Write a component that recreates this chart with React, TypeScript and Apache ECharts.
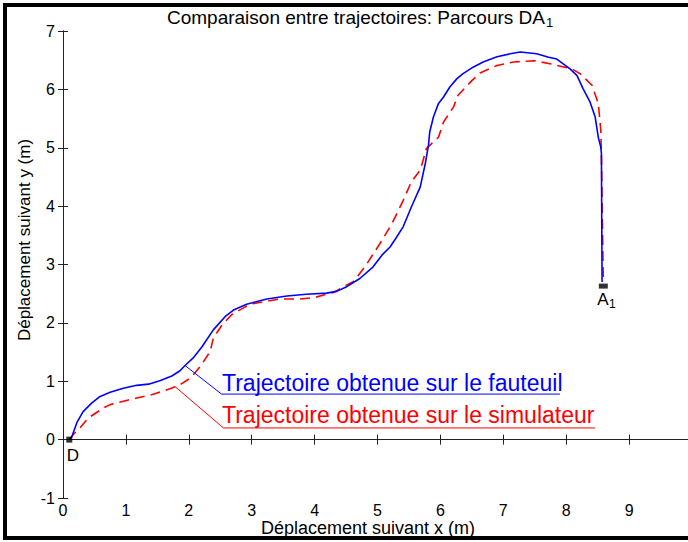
import React, { useEffect, useRef } from "react";
import * as echarts from "echarts";

// Trajectoire obtenue sur le fauteuil (blue, solid)
const blueX = [0.1, 0.14, 0.22, 0.32, 0.46, 0.59, 0.75, 0.96, 1.17, 1.36, 1.54, 1.73, 1.86, 1.94, 2.07, 2.21, 2.39, 2.58, 2.71, 2.92, 3.24, 3.56, 3.87, 4.19, 4.35, 4.51, 4.72, 4.93, 5.07, 5.2, 5.31, 5.41, 5.54, 5.68, 5.76, 5.81, 5.83, 5.89, 5.97, 6.05, 6.15, 6.26, 6.36, 6.52, 6.68, 6.9, 7.11, 7.27, 7.53, 7.72, 7.85, 8.06, 8.17, 8.27, 8.38, 8.46, 8.51, 8.55, 8.56, 8.57];
const blueY = [0, 0.05, 0.29, 0.48, 0.63, 0.74, 0.81, 0.88, 0.93, 0.95, 1.01, 1.09, 1.18, 1.27, 1.4, 1.59, 1.88, 2.11, 2.22, 2.32, 2.41, 2.46, 2.49, 2.51, 2.54, 2.62, 2.76, 2.96, 3.16, 3.3, 3.48, 3.65, 3.99, 4.33, 4.73, 5.04, 5.27, 5.53, 5.76, 5.87, 6.04, 6.18, 6.27, 6.38, 6.47, 6.56, 6.61, 6.64, 6.61, 6.55, 6.52, 6.35, 6.24, 6.01, 5.78, 5.53, 5.18, 5.01, 4.9, 2.7];

// Trajectoire obtenue sur le simulateur (red, dashed)
const redX = [0.1, 0.16, 0.27, 0.4, 0.64, 0.75, 1.04, 1.41, 1.7, 1.86, 1.99, 2.07, 2.18, 2.34, 2.39, 2.52, 2.68, 2.97, 3.18, 3.45, 3.77, 3.98, 4.3, 4.46, 4.62, 4.8, 5.04, 5.23, 5.41, 5.54, 5.68, 5.78, 5.97, 6.05, 6.21, 6.28, 6.5, 6.63, 6.9, 7.16, 7.5, 7.74, 8.09, 8.22, 8.41, 8.51, 8.55, 8.56, 8.59];
const redY = [0, 0.085, 0.2, 0.37, 0.54, 0.6, 0.68, 0.77, 0.87, 0.94, 1.03, 1.11, 1.25, 1.51, 1.74, 1.95, 2.14, 2.32, 2.36, 2.41, 2.41, 2.43, 2.52, 2.62, 2.71, 2.96, 3.36, 3.7, 4.1, 4.42, 4.62, 4.99, 5.18, 5.44, 5.7, 5.9, 6.15, 6.28, 6.41, 6.47, 6.49, 6.44, 6.35, 6.27, 6.07, 5.76, 5.3, 4.84, 2.7];

// start (D) and end (A1) points
const startPoint = [0.1, 0];
const endPoint = [8.59, 2.63];

// leader lines of the annotations (data coordinates)
const blueLeaderX = [1.94, 2.52, 7.9];
const blueLeaderY = [1.27, 0.78, 0.78];
const redLeaderX = [1.78, 2.55, 8.46];
const redLeaderY = [0.91, 0.2, 0.2];

const titleText = "Comparaison entre trajectoires: Parcours DA";
const titleSub = "1";
const xTitle = "Déplacement suivant x (m)";
const yTitle = "Déplacement suivant y (m)";
const blueLabel = "Trajectoire obtenue sur le fauteuil";
const redLabel = "Trajectoire obtenue sur le simulateur";
const startLabel = "D";
const endLabel = "A";
const endSub = "1";

const FONT = "'Liberation Sans', Arial, sans-serif";
const AXIS_COLOR = "#222";

const zip = (xs: number[], ys: number[]) => xs.map((x, i) => [x, ys[i]]);

export default function App() {
  const ref = useRef<HTMLDivElement>(null);
  useEffect(() => {
    document.body.style.margin = "0";
    const chart = echarts.init(ref.current!, undefined, { renderer: "svg" });
    const gridLeft = 63, gridTop = 31, gridW = 629, gridH = 467;
    const axisCommon = {
      type: "value" as const,
      axisLine: { show: true, lineStyle: { color: AXIS_COLOR, width: 1 } },
      axisTick: { show: true, inside: true, length: 5, lineStyle: { color: AXIS_COLOR } },
      splitLine: { show: false },
    };
    chart.setOption({
      animation: false,
      backgroundColor: "#ffffff",
      grid: { left: gridLeft, top: gridTop, width: gridW, height: gridH, outerBoundsMode: "none", containLabel: false },
      xAxis: [
        {
          ...axisCommon, position: "bottom", min: 0, max: 10, interval: 1,
          axisLabel: { color: "#000", fontFamily: FONT, fontSize: 16, margin: 4, showMaxLabel: false },
        },
        {
          ...axisCommon, position: "top", min: 0, max: 10, interval: 1,
          axisLabel: { show: false },
        },
      ],
      yAxis: [
        {
          ...axisCommon, position: "left", min: -1, max: 7, interval: 1,
          axisLabel: { color: "#000", fontFamily: FONT, fontSize: 16, margin: 8 },
        },
        {
          ...axisCommon, position: "right", min: -1, max: 7, interval: 1,
          axisLabel: { show: false },
        },
      ],
      series: [
        {
          type: "line", data: zip(redX, redY), showSymbol: false, smooth: false,
          lineStyle: { color: "#ff0000", width: 1.6, type: [10, 6] }, z: 2,
        },
        {
          type: "line", data: zip(blueX, blueY), showSymbol: false, smooth: false,
          lineStyle: { color: "#0000ff", width: 1.6 }, z: 3,
        },
        {
          type: "line", data: zip(blueLeaderX, blueLeaderY), showSymbol: false,
          lineStyle: { color: "#0000ff", width: 1 }, z: 4,
        },
        {
          type: "line", data: zip(redLeaderX, redLeaderY), showSymbol: false,
          lineStyle: { color: "#ff0000", width: 1 }, z: 4,
        },
        {
          type: "scatter", data: [startPoint], symbol: "rect", symbolSize: [6, 6],
          itemStyle: { color: "#000" }, z: 5,
        },
        {
          type: "scatter", data: [endPoint], symbol: "rect", symbolSize: [9, 5],
          itemStyle: { color: "#000" }, z: 5,
        },
      ],
      graphic: [
        { type: "rect", shape: { x: 3, y: 3, width: 4, height: 537 }, style: { fill: "#000" } },
        { type: "rect", shape: { x: 3, y: 3, width: 690, height: 4 }, style: { fill: "#000" } },
        { type: "rect", shape: { x: 3, y: 536, width: 690, height: 4 }, style: { fill: "#000" } },
        {
          type: "text", x: 545, y: 17,
          style: { text: titleText, fill: "#000", font: `19px ${FONT}`, textAlign: "right", textVerticalAlign: "middle" },
        },
        {
          type: "text", x: 546, y: 22,
          style: { text: titleSub, fill: "#000", font: `13px ${FONT}`, textAlign: "left", textVerticalAlign: "middle" },
        },
        {
          type: "text", x: 368, y: 528,
          style: { text: xTitle, fill: "#000", font: `18px ${FONT}`, textAlign: "center", textVerticalAlign: "middle" },
        },
        {
          type: "text", x: 24, y: 240, rotation: Math.PI / 2,
          style: { text: yTitle, fill: "#000", font: `17px ${FONT}`, textAlign: "center", textVerticalAlign: "middle" },
        },
        {
          type: "text", x: 222, y: 383,
          style: { text: blueLabel, fill: "#0000ff", font: `23px ${FONT}`, textAlign: "left", textVerticalAlign: "middle" },
        },
        {
          type: "text", x: 222, y: 415,
          style: { text: redLabel, fill: "#ff0000", font: `23px ${FONT}`, textAlign: "left", textVerticalAlign: "middle" },
        },
        {
          type: "text", x: 73, y: 455,
          style: { text: startLabel, fill: "#000", font: `17px ${FONT}`, textAlign: "center", textVerticalAlign: "middle" },
        },
        {
          type: "text", x: 603, y: 299,
          style: { text: endLabel, fill: "#000", font: `17px ${FONT}`, textAlign: "center", textVerticalAlign: "middle" },
        },
        {
          type: "text", x: 609, y: 304,
          style: { text: endSub, fill: "#000", font: `12px ${FONT}`, textAlign: "left", textVerticalAlign: "middle" },
        },
      ],
    });
    return () => chart.dispose();
  }, []);
  return <div ref={ref} style={{ position: "fixed", left: 0, top: 0, width: 688, height: 542 }} />;
}
